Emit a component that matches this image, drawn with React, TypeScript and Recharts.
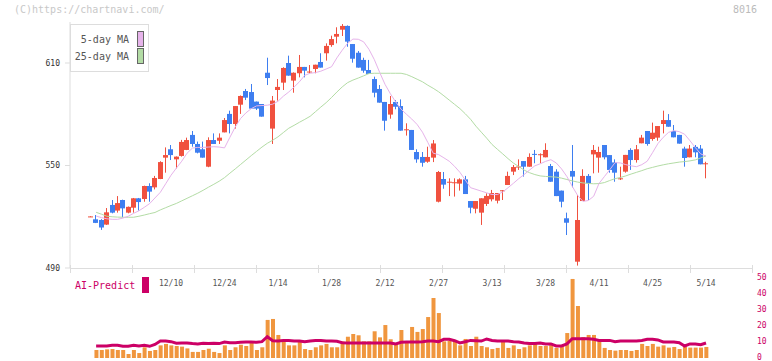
import { ComposedChart, Bar, Line, XAxis, YAxis } from "recharts";

const dates = [
  "11/19", "11/20", "11/21", "11/22", "11/25", "11/26", "11/27", "11/28", "11/29",
  "12/2", "12/3", "12/4", "12/5", "12/6", "12/9", "12/10", "12/11", "12/12", "12/13",
  "12/16", "12/17", "12/18", "12/19", "12/20", "12/23", "12/24", "12/25", "12/26", "12/27", "12/30",
  "1/6", "1/7", "1/8", "1/9", "1/10", "1/14", "1/15", "1/16", "1/17", "1/20", "1/21", "1/22", "1/23", "1/24",
  "1/27", "1/28", "1/29", "1/30", "1/31",
  "2/3", "2/4", "2/5", "2/6", "2/7", "2/10", "2/12", "2/13", "2/14", "2/17", "2/18", "2/19", "2/20", "2/21",
  "2/25", "2/26", "2/27", "2/28",
  "3/3", "3/4", "3/5", "3/6", "3/7", "3/10", "3/11", "3/12", "3/13", "3/14", "3/17", "3/18", "3/19", "3/21",
  "3/24", "3/25", "3/26", "3/27", "3/28", "3/31",
  "4/1", "4/2", "4/3", "4/4", "4/7", "4/8", "4/9", "4/10", "4/11", "4/14", "4/15", "4/16", "4/17", "4/18",
  "4/21", "4/22", "4/23", "4/24", "4/25", "4/28", "4/30",
  "5/1", "5/2", "5/7", "5/8", "5/9", "5/12", "5/13", "5/14",
];

const labelDates = ["12/10", "12/24", "1/14", "1/28", "2/12", "2/27", "3/13", "3/28", "4/11", "4/25", "5/14"];

const opens = [
  519.9, 518.5, 518.1, 515.4, 526.9, 523.6, 529.8, 522.4, 525.3, 530.8,
  530.4, 538.0, 537.2, 542.1, 554.6, 559.5, 553.6, 555.6, 559.1, 567.9,
  562.6, 559.5, 549.3, 564.9, 564.5, 569.4, 580.2, 574.3, 585.6, 593.6,
  593.0, 587.4, 586.0, 604.3, 571.6, 594.2, 598.5, 610.0, 599.7, 604.0,
  607.7, 604.5, 606.5, 610.6, 615.7, 620.5, 625.4, 629.5, 631.7, 621.1,
  616.0, 611.8, 605.9, 600.6, 594.8, 587.2, 579.8, 587.2, 584.8, 570.8,
  570.8, 557.9, 555.0, 552.2, 554.6, 528.8, 542.1, 540.0, 539.7, 539.4,
  541.9, 529.2, 524.7, 522.4, 527.5, 530.2, 529.4, 535.0, 538.6, 546.4,
  549.1, 552.6, 549.3, 556.8, 556.2, 554.8, 549.7, 546.4, 535.3, 519.1,
  546.8, 493.7, 529.2, 543.9, 556.5, 554.6, 562.0, 556.1, 551.8, 542.1,
  546.4, 559.1, 553.2, 563.0, 570.2, 565.5, 566.3, 574.3, 576.6, 570.2,
  567.9, 559.9, 554.8, 560.9, 559.9, 551.0,
];

const highs = [
  520.3, 521.0, 518.6, 525.1, 529.8, 532.1, 530.0, 526.0, 531.0, 531.0,
  538.2, 539.6, 543.9, 552.5, 560.6, 562.0, 555.3, 565.0, 566.3, 570.2,
  564.0, 564.0, 566.5, 568.8, 568.8, 577.8, 582.1, 584.8, 591.0, 594.8,
  597.7, 587.4, 586.0, 613.1, 590.7, 600.6, 607.5, 614.3, 604.5, 614.7,
  607.7, 608.8, 609.0, 615.7, 621.5, 626.0, 630.9, 632.8, 632.0, 621.1,
  617.0, 613.1, 611.8, 602.0, 597.1, 587.2, 590.7, 588.3, 588.7, 574.7,
  570.8, 559.5, 557.9, 561.0, 564.9, 546.8, 546.2, 542.5, 542.5, 542.5,
  543.9, 529.2, 529.2, 530.8, 533.7, 535.7, 533.9, 535.6, 546.4, 550.3,
  553.6, 552.6, 557.1, 559.1, 557.1, 563.0, 550.9, 547.8, 535.3, 522.4,
  562.0, 532.7, 547.8, 545.0, 562.0, 561.0, 562.0, 556.1, 553.6, 549.3,
  556.2, 560.1, 562.0, 567.9, 570.2, 575.1, 573.1, 582.1, 580.1, 573.7,
  567.9, 561.0, 562.0, 562.0, 562.0, 552.2,
];

const lows = [
  519.8, 516.3, 512.3, 515.2, 522.0, 522.4, 519.7, 522.0, 522.4, 523.6,
  528.8, 528.8, 536.0, 542.0, 545.8, 553.2, 548.3, 555.2, 559.0, 561.0,
  557.1, 554.6, 549.0, 562.6, 562.6, 569.4, 568.8, 571.6, 580.2, 588.3,
  583.3, 582.5, 578.6, 597.1, 562.6, 588.0, 594.2, 602.6, 592.6, 601.6,
  601.6, 604.0, 604.0, 607.3, 611.4, 619.5, 621.5, 625.8, 619.5, 610.2,
  607.3, 604.3, 603.6, 589.9, 586.8, 570.4, 577.4, 582.9, 570.4, 567.5,
  559.1, 551.6, 549.3, 551.6, 552.0, 528.4, 536.4, 532.1, 531.8, 535.3,
  533.3, 522.0, 522.0, 515.2, 526.3, 529.0, 527.8, 529.8, 538.6, 544.4,
  547.4, 543.5, 549.3, 551.3, 551.3, 554.8, 540.5, 532.1, 525.5, 509.3,
  537.2, 491.4, 529.2, 529.8, 545.4, 545.8, 553.6, 545.8, 540.5, 541.5,
  545.8, 547.4, 551.7, 563.0, 561.6, 564.5, 564.5, 568.8, 572.7, 566.5,
  562.8, 549.3, 554.8, 554.8, 550.7, 542.5,
];

const closes = [
  520.2, 516.4, 513.7, 522.6, 522.4, 528.0, 524.9, 525.8, 530.8, 528.6,
  538.0, 534.7, 542.7, 552.0, 556.1, 556.1, 555.2, 563.8, 564.9, 562.6,
  557.5, 554.6, 564.9, 562.6, 566.3, 576.6, 574.3, 584.8, 590.7, 589.7,
  583.3, 583.3, 578.6, 601.2, 588.0, 596.0, 607.1, 602.6, 604.3, 607.7,
  605.5, 605.0, 609.0, 607.3, 620.0, 624.0, 627.0, 631.7, 622.5, 612.5,
  607.3, 605.5, 603.6, 592.6, 586.8, 576.2, 586.0, 584.4, 570.4, 571.2,
  559.1, 553.6, 551.6, 555.0, 562.9, 546.2, 538.8, 540.5, 540.2, 541.9,
  533.3, 525.3, 529.2, 530.8, 532.2, 533.9, 533.9, 535.5, 543.9, 549.1,
  549.4, 549.3, 555.0, 556.4, 556.6, 559.1, 540.5, 532.1, 528.8, 516.5,
  543.5, 518.1, 543.9, 539.6, 559.1, 557.9, 554.8, 547.4, 545.8, 542.5,
  556.2, 553.2, 559.5, 566.3, 562.6, 569.2, 573.1, 576.6, 572.7, 566.5,
  562.8, 554.4, 559.9, 557.7, 550.7, 551.3,
];

const ma5 = [
  null, 520.4, 519.5, 518.8, 518.5, 518.5, 519.2, 520.3, 522.0, 523.5,
  525.5, 527.7, 531.0, 534.3, 539.3, 544.3, 548.5, 552.5, 557.2, 560.2,
  560.6, 560.6, 560.8, 561.0, 560.8, 560.3, 566.5, 572.5, 577.5, 580.8,
  583.3, 584.9, 585.1, 585.3, 585.9, 587.6, 590.6, 593.0, 595.9, 599.0,
  602.8, 604.0, 604.4, 605.2, 606.5, 607.8, 613.0, 617.5, 621.5, 624.0,
  623.9, 622.4, 618.0, 612.0, 604.5, 597.5, 592.0, 587.2, 583.0, 580.0,
  577.2, 574.0, 569.5, 563.5, 557.2, 556.4, 554.5, 552.5, 549.5, 546.0,
  541.5, 537.0, 536.0, 535.0, 534.0, 533.0, 533.0, 534.5, 537.0, 539.6,
  542.3, 544.7, 547.3, 549.8, 551.0, 552.4, 553.4, 551.5, 548.0, 543.5,
  537.8, 532.5, 529.0, 529.5, 532.0, 539.5, 543.5, 547.5, 551.7, 551.5,
  550.5, 549.8, 549.3, 550.5, 552.5, 557.5, 562.8, 566.5, 569.4, 570.4,
  569.8, 568.3, 564.5, 560.5, 556.8, 555.5,
];

const ma25 = [
  null, 522.6, 521.5, 520.3, 520.0, 519.8, 519.7, 519.7, 519.7, 520.3,
  521.0, 521.8, 522.5, 524.0, 525.3, 526.6, 527.8, 529.3, 530.8, 532.3,
  533.8, 535.5, 537.3, 539.0, 540.8, 542.9, 545.5, 548.0, 550.6, 553.2,
  555.8, 558.3, 560.8, 563.0, 564.8, 566.8, 569.3, 571.8, 573.5, 575.3,
  577.0, 578.8, 581.5, 584.2, 586.8, 589.8, 593.0, 596.0, 598.5, 600.0,
  601.2, 602.5, 603.8, 604.0, 604.0, 604.0, 604.0, 604.0, 604.0, 603.3,
  602.0, 600.5, 599.0, 597.0, 595.2, 593.2, 590.8, 588.3, 585.8, 583.3,
  580.3, 577.0, 573.0, 569.5, 566.0, 562.3, 559.5, 556.8, 554.0, 551.4,
  549.4, 547.3, 545.8, 544.7, 543.9, 543.6, 543.4, 543.2, 542.6, 541.8,
  541.0, 540.3, 539.8, 539.5, 539.3, 539.4, 540.0, 541.2, 542.3, 543.0,
  543.9, 545.0, 546.0, 547.0, 548.1, 548.9, 549.7, 550.4, 551.0, 551.5,
  552.0, 552.3, 552.7, 553.3, 554.4, 555.6,
];

const volume = [
  null, 5.0, 5.0, 5.4, 5.6, 5.0, 5.0, 2.5, 5.0, 3.1,
  6.7, 4.4, 5.0, 7.9, 8.8, 7.9, 7.5, 7.1, 6.0, 3.8,
  3.8, 5.0, 5.8, 3.8, 3.1, 7.9, 5.0, 6.7, 8.3, 7.5,
  9.6, 5.0, 6.7, 23.8, 24.4, 14.4, 11.3, 7.9, 7.9, 10.8,
  5.6, 5.0, 6.7, 7.9, 8.8, 6.7, 6.7, 10.4, 13.3, 15.0,
  14.2, 10.4, 10.4, 16.7, 12.9, 20.6, 11.7, 9.2, 17.5, 10.4,
  19.4, 16.3, 18.1, 25.6, 37.5, 28.1, 10.4, 10.8, 11.3, 7.9,
  11.9, 7.5, 13.3, 7.5, 6.7, 5.6, 6.3, 10.2, 6.3, 7.9,
  5.6, 6.7, 7.9, 8.8, 7.5, 7.5, 8.8, 6.3, 7.5, 15.6,
  49.4, 32.5, 13.1, 14.4, 14.4, 10.6, 6.3, 5.0, 4.6, 5.0,
  5.0, 4.4, 5.0, 8.8, 7.5, 8.8, 7.1, 7.9, 6.5, 6.9,
  5.6, 7.1, 6.5, 6.5, 6.5, 6.9,
];

const aiPredict = [
  null, 7.5, 7.5, 7.5, 7.9, 7.9, 7.3, 7.3, 7.9, 7.5,
  7.9, 7.3, 8.5, 10.6, 10.6, 10.2, 9.2, 9.4, 9.4, 9.0,
  8.8, 9.2, 9.0, 9.2, 9.0, 10.0, 9.6, 9.6, 9.8, 10.0,
  10.0, 9.8, 10.2, 13.3, 10.8, 10.6, 11.0, 11.0, 10.6, 10.6,
  10.2, 10.6, 11.0, 11.0, 10.6, 10.6, 10.4, 9.6, 9.4, 9.4,
  9.4, 9.4, 9.4, 9.4, 9.4, 9.4, 9.4, 8.8, 9.8, 10.0,
  10.0, 10.0, 10.2, 10.6, 10.6, 10.2, 11.7, 11.7, 10.8, 9.4,
  10.2, 11.0, 10.8, 10.6, 11.9, 11.0, 10.6, 10.6, 10.6, 10.2,
  10.0, 9.4, 9.0, 9.0, 9.4, 8.8, 8.8, 7.5, 7.5, 8.8,
  12.1, 12.1, 12.1, 12.1, 11.7, 11.0, 11.0, 11.0, 10.2, 10.6,
  10.6, 10.6, 10.6, 11.0, 11.7, 11.7, 11.3, 10.0, 10.0, 10.0,
  9.6, 7.5, 8.8, 8.8, 8.3, 9.4,
];

const priceTicks = [490, 550, 610];
const volumeTicks = [0, 10, 20, 30, 40, 50];
// the bottom axis is cut into 11 equal sections
const GRID_SPAN = dates.length - 1;
const gridTicks = [0, 1, 2, 3, 4, 5, 6, 7, 8, 9, 10, 11].map((k) => (k * GRID_SPAN) / 11);

const prices = dates.map((date, i) => ({
  date,
  open: opens[i],
  high: highs[i],
  low: lows[i],
  close: closes[i],
  ma5: ma5[i],
  ma25: ma25[i],
}));

const volumes = dates.map((date, i) => ({ date, vol: volume[i], ai: aiPredict[i] }));

const FONT = '"DejaVu Sans Mono", monospace';
const RED = "#f0513f";
const BLUE = "#3e7ef0";
const PINK = "#e6b3ea";
const GREEN = "#b3dca5";
const MAGENTA = "#cc0066";
const AXIS = "#dddddd";
const PAD = { left: 18.1, right: 43.3 };
const AXIS_Y = 268;

const Candle = (props: any) => {
  let { x, y, width, height } = props;
  const { open, close, high, low } = props.payload;
  if (height < 0) {
    y += height;
    height = -height;
  }
  const color = close >= open ? RED : BLUE;
  const cx = Math.round(x + width / 2 - 0.5) + 0.5;
  const k = high > low ? height / (high - low) : 0;
  const top = y + (high - Math.max(open, close)) * k;
  const bot = y + (high - Math.min(open, close)) * k;
  return (
    <g>
      <line x1={cx} x2={cx} y1={y} y2={y + height} stroke={color} strokeWidth={1} />
      <rect x={cx - 2.5} y={top} width={5} height={Math.max(1, bot - top)} fill={color} />
    </g>
  );
};

// tick helpers take the axis row from the plot bottom so axis stacking order does not matter
const DateTick = ({ x, payload }: any) => (
  <text x={x} y={AXIS_Y + 17.5} textAnchor="middle" fontSize={8} fill="#555" fontFamily={FONT}>
    {payload.value}
  </text>
);

const GridTick = ({ x }: any) => (
  <g>
    <line x1={70} x2={752} y1={AXIS_Y + 0.5} y2={AXIS_Y + 0.5} stroke={AXIS} />
    <line x1={Math.round(x) + 0.5} x2={Math.round(x) + 0.5} y1={AXIS_Y - 3} y2={AXIS_Y + 5} stroke={AXIS} />
  </g>
);

export default function App() {
  return (
    <div style={{ position: "relative", width: 772, height: 361, background: "#fff", fontFamily: FONT }}>
      <style>{`body{margin:0}`}</style>
      <div style={{ position: "absolute", left: 14, top: 4, fontSize: 10, color: "#c8c8c8" }}>
        (C)https://chartnavi.com/
      </div>
      <div style={{ position: "absolute", left: 733, top: 4, fontSize: 10, color: "#bbb" }}>8016</div>

      <div style={{ position: "absolute", left: 0, top: 0 }}>
        <ComposedChart width={772} height={361} data={prices} margin={{ top: 22, right: 20, bottom: 91, left: 0 }}>
          <XAxis
            dataKey="date"
            type="category"
            padding={PAD}
            height={1}
            ticks={labelDates}
            interval={0}
            tickSize={0}
            tickMargin={0}
            axisLine={false}
            tickLine={false}
            tick={<DateTick />}
          />
          <XAxis
            xAxisId="g"
            type="number"
            domain={[0, GRID_SPAN]}
            ticks={gridTicks}
            interval={0}
            allowDataOverflow
            height={1}
            tickSize={0}
            tickMargin={0}
            axisLine={false}
            tickLine={false}
            tick={<GridTick />}
          />
          <YAxis
            domain={[490, 634]}
            ticks={priceTicks}
            interval={0}
            width={70}
            allowDataOverflow
            axisLine={{ stroke: AXIS }}
            tickLine={{ stroke: AXIS }}
            tickSize={5}
            tickMargin={5}
            tick={{ fontSize: 8, fill: "#333", fontFamily: FONT }}
          />
          <Line dataKey="ma25" stroke={GREEN} strokeWidth={1} dot={false} isAnimationActive={false} />
          <Line dataKey="ma5" stroke={PINK} strokeWidth={1} dot={false} isAnimationActive={false} />
          <Bar
            dataKey={(d: any) => [d.low, d.high]}
            barSize={5}
            shape={<Candle />}
            isAnimationActive={false}
          />
        </ComposedChart>
      </div>

      <div style={{ position: "absolute", left: 0, top: 0 }}>
        <ComposedChart width={772} height={361} data={volumes} margin={{ top: 270, right: 0, bottom: 3, left: 70 }}>
          <XAxis dataKey="date" padding={PAD} height={1} hide />
          <YAxis
            orientation="right"
            domain={[0, 55]}
            ticks={volumeTicks}
            interval={0}
            width={20}
            axisLine={false}
            tickLine={false}
            tickSize={0}
            tickMargin={5}
            tick={{ fontSize: 8, fill: MAGENTA, fontFamily: FONT, textAnchor: "start", dy: -1 }}
          />
          <Bar dataKey="vol" barSize={4} fill="#f0963e" isAnimationActive={false} />
          <Line dataKey="ai" stroke={MAGENTA} strokeWidth={3} dot={false} isAnimationActive={false} />
        </ComposedChart>
      </div>

      <div
        style={{
          position: "absolute",
          left: 70,
          top: 24,
          width: 79,
          height: 48,
          boxSizing: "border-box",
          border: "1px solid #ddd",
          background: "#fff",
          fontSize: 10,
          color: "#555",
        }}
      >
        <div style={{ position: "absolute", right: 19, top: 9, lineHeight: "12px" }}>5-day MA</div>
        <div style={{ position: "absolute", left: 66, top: 6, width: 7, height: 16, boxSizing: "border-box", border: "1px solid #666", background: PINK }} />
        <div style={{ position: "absolute", right: 19, top: 26, lineHeight: "12px" }}>25-day MA</div>
        <div style={{ position: "absolute", left: 66, top: 23, width: 7, height: 16, boxSizing: "border-box", border: "1px solid #666", background: GREEN }} />
      </div>

      <div style={{ position: "absolute", left: 75, top: 279, fontSize: 10, lineHeight: "14px", color: MAGENTA }}>AI-Predict</div>
      <div style={{ position: "absolute", left: 142, top: 277, width: 7, height: 16, background: MAGENTA }} />
    </div>
  );
}
